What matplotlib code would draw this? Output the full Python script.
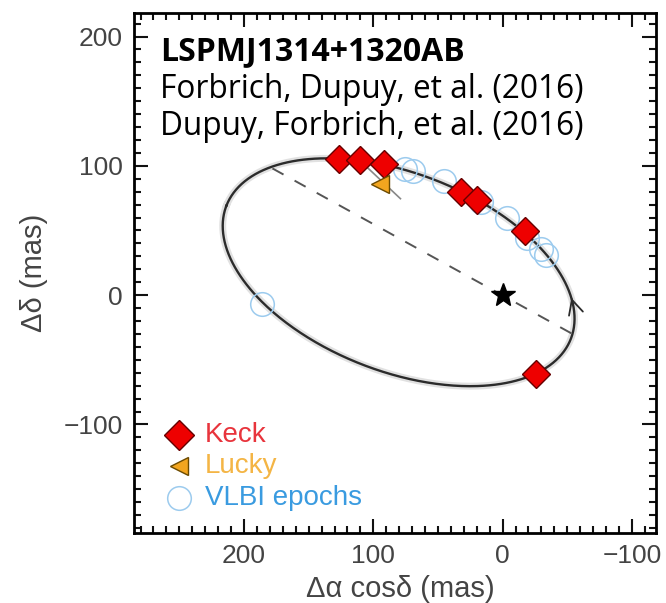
import matplotlib.pyplot as plt
import numpy as np

# relative astrometry of B around A (mas)
keck_x = [126.6, 110.4, 91.4, 31.9, 19.6, -17.0, -25.5]
keck_y = [105.0, 104.2, 101.1, 79.9, 73.2, 49.5, -61.3]
lucky_x = [94.7]
lucky_y = [86.0]
vlbi_x = [75.4, 69.6, 45.6, 17.0, -3.1, -19.1, -29.4, -33.3, 185.8]
vlbi_y = [97.6, 96.1, 88.4, 72.3, 59.8, 44.3, 35.3, 31.4, -7.2]

# apparent orbit: centre, semi-axes and position of the major axis
orbit_center = (80.4, 17.7)
orbit_axes = (142.8, 76.7)
orbit_angle = 21.1

# line of nodes ends
node_x = [178, -54]
node_y = [98, -30]

t = np.linspace(0, 2*np.pi, 500)
th = np.radians(orbit_angle)
ex = orbit_axes[0]*np.cos(t)
ey = orbit_axes[1]*np.sin(t)
orb_x = orbit_center[0] + ex*np.cos(th) - ey*np.sin(th)
orb_y = orbit_center[1] + ex*np.sin(th) + ey*np.cos(th)

plt.rcParams['font.family'] = ['Liberation Sans', 'DejaVu Sans']
fig = plt.figure(figsize=(6.66, 6.03), dpi=100)
ax = fig.add_axes([0.201, 0.116, 0.785, 0.862])

ax.plot(orb_x, orb_y, color='#aaaaaa', lw=5, alpha=0.35, zorder=1)
ax.plot(orb_x, orb_y, color='#2b2b2b', lw=1.7, zorder=2)

# direction of motion, on the right-hand side of the orbit
right = np.where(orb_x < orbit_center[0])[0]
i = right[np.argmin(np.abs(orb_y[right] + 3))]
j = i + 1 if orb_y[(i + 1) % len(t)] > orb_y[i] else i - 1
ax.annotate('', xy=(orb_x[j], orb_y[j]), xytext=(orb_x[i], orb_y[i]),
            arrowprops=dict(arrowstyle='->', color='#2b2b2b', lw=1.3, mutation_scale=26))

ax.plot(node_x, node_y, color='#555555', lw=1.4, ls=(0, (6.5, 6.5)), zorder=2)
ax.plot([106, 79], [100, 74.6], color='#888888', lw=1.2, zorder=2)
ax.plot(vlbi_x, vlbi_y, 'o', ms=17, mfc='none', mec='#9ccbee', mew=1.1, zorder=3)
ax.plot(keck_x, keck_y, 'D', ms=14, mfc='#ee0000', mec='#660000', mew=1, zorder=4)
ax.plot(lucky_x, lucky_y, '<', ms=13, mfc='#f2a51f', mec='#6b4a00', mew=1, zorder=4)
ax.plot([0], [0], '*', ms=18, color='black', zorder=5)

fig.text(0.24, 0.901, 'LSPMJ1314+1320AB', fontsize=23, fontweight='bold',
         family='Open Sans', va='baseline')
fig.text(0.24, 0.8375, 'Forbrich, Dupuy, et al. (2016)', fontsize=22.8,
         family='Open Sans', va='baseline')
fig.text(0.24, 0.776, 'Dupuy, Forbrich, et al. (2016)', fontsize=22.8,
         family='Open Sans', va='baseline')

# legend drawn by hand
ax.plot([250.6], [-108], 'D', ms=15, mfc='#ee0000', mec='#660000', mew=1)
ax.plot([250.6], [-132], '<', ms=13, mfc='#f2a51f', mec='#6b4a00', mew=1)
ax.plot([250.6], [-157], 'o', ms=17, mfc='none', mec='#9ccbee', mew=1.1)
ax.text(230, -108, 'Keck', color='#e8343c', fontsize=20, va='center')
ax.text(230, -132, 'Lucky', color='#f4b545', fontsize=20, va='center')
ax.text(230, -157, 'VLBI epochs', color='#3a9be0', fontsize=20, va='center')

ax.set_xlim(285, -119)
ax.set_ylim(-184, 218)
ax.set_aspect('equal', adjustable='box')
ax.set_xticks([200, 100, 0, -100])
ax.set_yticks([200, 100, 0, -100])
ax.set_xticklabels(['200', '100', '0', '\u2212100'])
ax.set_yticklabels(['200', '100', '0', '\u2212100'])
ax.xaxis.set_minor_locator(plt.MultipleLocator(10))
ax.yaxis.set_minor_locator(plt.MultipleLocator(10))
ax.tick_params(which='both', direction='in', top=True, right=True, width=1.5, colors='#111111',
               labelcolor='#444444', labelsize=19, pad=8)
ax.tick_params(which='major', length=10)
ax.tick_params(which='minor', length=5)
for s in ax.spines.values():
    s.set_linewidth(2)
ax.set_xlabel('\u0394\u03b1 cos\u03b4 (mas)', fontsize=21, color='#444444')
ax.set_ylabel('\u0394\u03b4 (mas)', fontsize=21, color='#444444')
ax.xaxis.set_label_coords(0.51, -0.08)
ax.yaxis.set_label_coords(-0.164, 0.5)

fig.savefig('out.png', dpi=100)
